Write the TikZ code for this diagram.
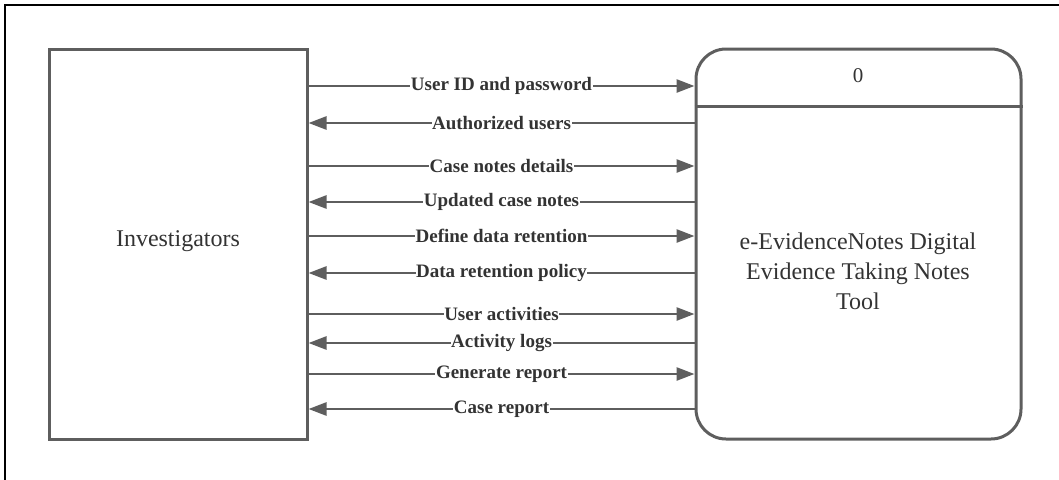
\documentclass[tikz,border=0pt]{standalone}
\usepackage{fontspec}
\setmainfont{Liberation Serif}
\usetikzlibrary{arrows.meta}
\definecolor{linegray}{HTML}{5E5E5E}
\definecolor{txtgray}{HTML}{333333}
\tikzset{
  box/.style={draw=linegray, line width=3pt, fill=white, inner sep=0pt},
  flow/.style={draw=linegray, line width=2.6pt, -{Triangle[length=18pt,width=13pt]}},
  lbl/.style={fill=white, inner sep=0.6pt, text=txtgray, font=\fontsize{19}{19}\selectfont\bfseries},
  big/.style={text=txtgray, font=\fontsize{24}{30}\selectfont, align=center},
}
\begin{document}
\begin{tikzpicture}[x=1pt,y=-1pt]
\useasboundingbox (0,0) rectangle (1059,479);
\clip (0,0) rectangle (1059,479);
\draw[black, line width=1.2pt] (5,5) rectangle (1080,500);
\node[box, minimum width=258pt, minimum height=390pt] (inv) at (178,244) {};
\node[big] (invt) at (178,241) {Investigators};
\node[box, rounded corners=30pt, minimum width=325pt, minimum height=390pt] (proc) at (858.5,244) {};
\draw[linegray, line width=3pt] (proc.west |- 0,106) -- (proc.east |- 0,106);
\node[text=txtgray, font=\fontsize{21}{21}\selectfont] (num) at (858,76) {0};
\node[big] (proct) at (858,271) {e-EvidenceNotes Digital\\Evidence Taking Notes\\Tool};
\draw[flow] (inv.east |- 0,86) -- node[lbl] (l1) {User ID and password} (proc.west |- 0,86);
\draw[flow] (proc.west |- 0,123) -- node[lbl] (l2) {Authorized users} (inv.east |- 0,123);
\draw[flow] (inv.east |- 0,166) -- node[lbl] (l3) {Case notes details} (proc.west |- 0,166);
\draw[flow] (proc.west |- 0,202) -- node[lbl] (l4) {Updated case notes} (inv.east |- 0,202);
\draw[flow] (inv.east |- 0,236) -- node[lbl] (l5) {Define data retention} (proc.west |- 0,236);
\draw[flow] (proc.west |- 0,273) -- node[lbl] (l6) {Data retention policy} (inv.east |- 0,273);
\draw[flow] (inv.east |- 0,314) -- node[lbl] (l7) {User activities} (proc.west |- 0,314);
\draw[flow] (proc.west |- 0,343) -- node[lbl] (l8) {Activity logs} (inv.east |- 0,343);
\draw[flow] (inv.east |- 0,374) -- node[lbl] (l9) {Generate report} (proc.west |- 0,374);
\draw[flow] (proc.west |- 0,409) -- node[lbl] (l10) {Case report} (inv.east |- 0,409);
\end{tikzpicture}
\end{document}
